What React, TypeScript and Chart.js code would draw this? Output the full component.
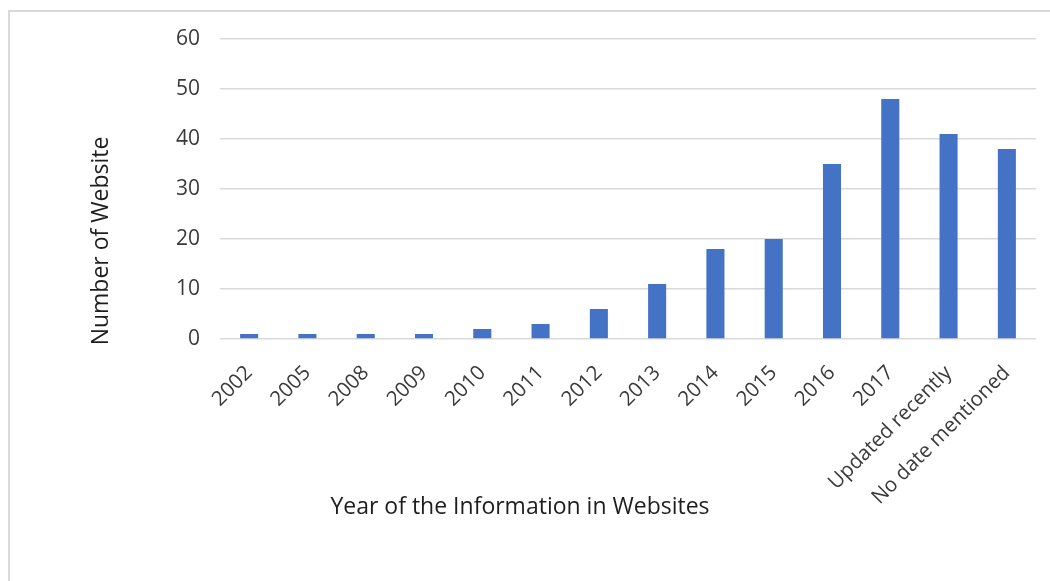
import React, { useEffect, useRef } from "react";
import { Chart, registerables } from "chart.js";
Chart.register(...registerables);

const categories = [
  "2002", "2005", "2008", "2009", "2010", "2011", "2012", "2013",
  "2014", "2015", "2016", "2017", "Updated recently", "No date mentioned",
];
const websiteCounts = [1, 1, 1, 1, 2, 3, 6, 11, 18, 20, 35, 48, 41, 38];
const yMin = 0;
const yMax = 60;
const yStep = 10;
const xTitle = "Year of the Information in Websites";
const yTitle = "Number of Website";

const FONT = "'Open Sans', 'Noto Sans', sans-serif";
const TEXT = "#3a3a3a";
const TITLE = "#1e1e1e";

const axisTitlesPlugin = {
  id: "axisTitles",
  afterDraw(chart: any) {
    const ctx = chart.ctx;
    ctx.save();
    ctx.fillStyle = TITLE;
    ctx.font = `23px ${FONT}`;
    ctx.textAlign = "center";
    ctx.textBaseline = "middle";
    ctx.fillText(xTitle, 520, 507);
    ctx.translate(101, 241);
    ctx.rotate(-Math.PI / 2);
    ctx.fillText(yTitle, 0, 0);
    ctx.restore();
  },
};

export default function App() {
  const ref = useRef<HTMLCanvasElement | null>(null);
  useEffect(() => {
    if (!ref.current) return;
    const chart = new Chart(ref.current, {
      type: "bar",
      data: {
        labels: categories,
        datasets: [
          {
            data: websiteCounts,
            backgroundColor: "#4472C4",
            borderWidth: 0,
            barPercentage: 0.62,
            categoryPercentage: 0.5,
          },
        ],
      },
      plugins: [axisTitlesPlugin],
      options: {
        responsive: false,
        animation: false,
        layout: { padding: { left: 84, right: 14, top: 39, bottom: 58 } },
        plugins: { legend: { display: false }, tooltip: { enabled: false } },
        scales: {
          x: {
            grid: { display: false, drawTicks: false },
            border: { display: false },
            ticks: {
              color: TEXT,
              font: { family: FONT, size: 20.5 },
              minRotation: 45,
              maxRotation: 45,
              padding: 22,
              autoSkip: false,
            },
            afterFit: (s: any) => {
              s.height = 184;
            },
          },
          y: {
            min: yMin,
            max: yMax,
            grid: { color: "#d9d9d9", lineWidth: 1.6, drawTicks: false },
            border: { display: false },
            ticks: {
              stepSize: yStep,
              color: TEXT,
              font: { family: FONT, size: 21 },
              padding: 20,
            },
            afterFit: (s: any) => {
              s.width = 136;
            },
          },
        },
      },
    });
    return () => chart.destroy();
  }, []);
  return (
    <div style={{ position: "fixed", left: 0, top: 0, width: 1050, height: 581, overflow: "hidden", background: "#fff" }}>
      <div
        style={{
          position: "absolute",
          left: 8,
          top: 10,
          width: 1100,
          height: 620,
          border: "2px solid #d9d9d9",
        }}
      />
      <canvas ref={ref} width={1050} height={581} style={{ position: "absolute", left: 0, top: 0 }} />
    </div>
  );
}
